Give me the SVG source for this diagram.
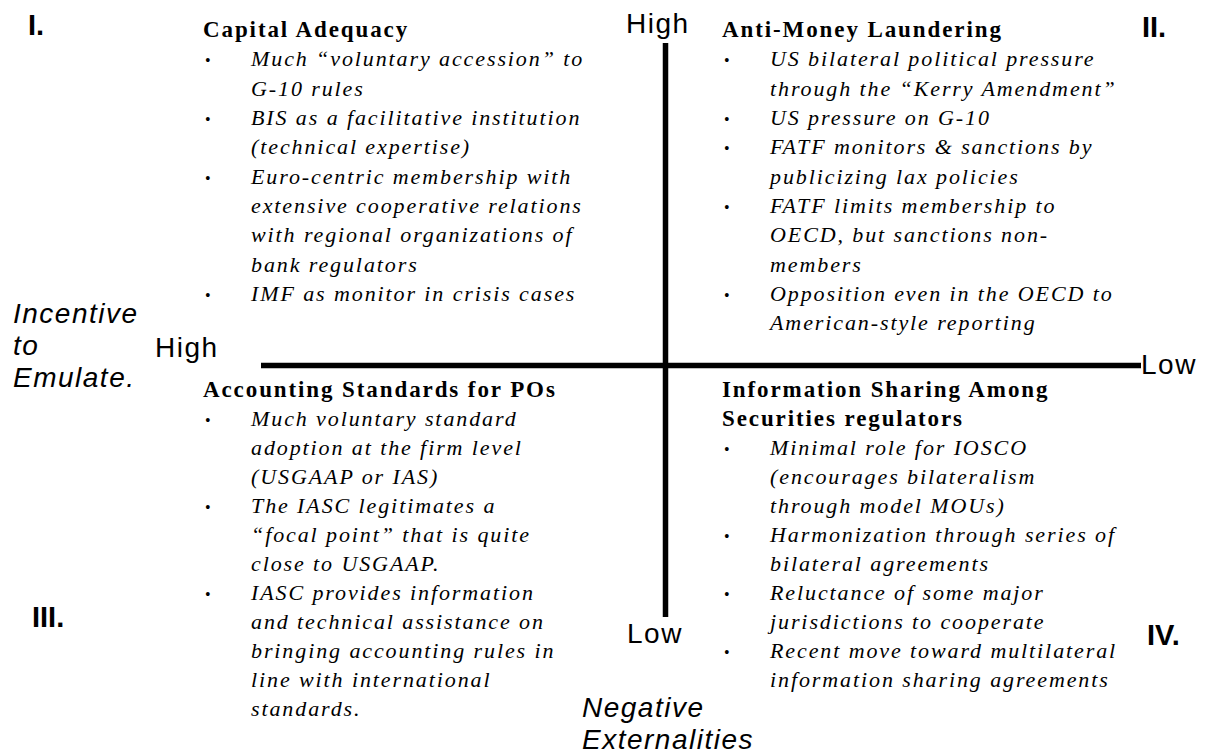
<svg xmlns="http://www.w3.org/2000/svg" width="1209" height="755" viewBox="0 0 1209 755">
<style>
.t{font-family:"Liberation Serif","Times New Roman",serif;font-weight:bold;font-size:23px;letter-spacing:1.9px;fill:#000}
.b{font-family:"Liberation Serif","Times New Roman",serif;font-style:italic;font-size:22px;letter-spacing:1.9px;fill:#000}
.d{font-family:"Liberation Serif","Times New Roman",serif;font-size:16px;fill:#000}
.s{font-family:"Liberation Sans",Arial,sans-serif;font-size:28px;letter-spacing:1.5px;fill:#000}
.si{font-family:"Liberation Sans",Arial,sans-serif;font-style:italic;font-size:28px;letter-spacing:1.5px;fill:#000}
.r{font-family:"Liberation Sans",Arial,sans-serif;font-weight:bold;font-size:29px;fill:#000}
.ax{stroke:#000;stroke-width:5.5;fill:none}
</style>
<rect width="1209" height="755" fill="#fff"/>
<g id="axes">
<line class="ax" x1="261" y1="365.5" x2="1141" y2="365.5"/>
<line class="ax" x1="665.5" y1="43" x2="665.5" y2="617"/>
</g>
<g id="axis-labels">
<text class="s" x="626" y="33">High</text>
<text class="s" x="155" y="357">High</text>
<text class="s" x="1141" y="374">Low</text>
<text class="s" x="627" y="643">Low</text>
<text class="si" x="13" y="323">Incentive</text>
<text class="si" x="13" y="355">to</text>
<text class="si" x="13" y="387">Emulate.</text>
<text class="si" x="582" y="717">Negative</text>
<text class="si" x="582" y="749">Externalities</text>
</g>
<g id="quadrant-labels">
<text class="r" x="28" y="35">I.</text>
<text class="r" x="1142" y="37">II.</text>
<text class="r" x="32" y="627">III.</text>
<text class="r" x="1147" y="645">IV.</text>
</g>
<g id="q1">
<text class="t" x="203" y="37">Capital Adequacy</text>
<text class="d" x="205" y="66">•</text><text class="b" x="251" y="66">Much “voluntary accession” to</text>
<text class="b" x="251" y="96">G-10 rules</text>
<text class="d" x="205" y="125">•</text><text class="b" x="251" y="125">BIS as a facilitative institution</text>
<text class="b" x="251" y="154">(technical expertise)</text>
<text class="d" x="205" y="184">•</text><text class="b" x="251" y="184">Euro-centric membership with</text>
<text class="b" x="251" y="213">extensive cooperative relations</text>
<text class="b" x="251" y="242">with regional organizations of</text>
<text class="b" x="251" y="272">bank regulators</text>
<text class="d" x="205" y="301">•</text><text class="b" x="251" y="301">IMF as monitor in crisis cases</text>
</g>
<g id="q2">
<text class="t" x="722" y="37">Anti-Money Laundering</text>
<text class="d" x="724" y="66">•</text><text class="b" x="770" y="66">US bilateral political pressure</text>
<text class="b" x="770" y="96">through the “Kerry Amendment”</text>
<text class="d" x="724" y="125">•</text><text class="b" x="770" y="125">US pressure on G-10</text>
<text class="d" x="724" y="154">•</text><text class="b" x="770" y="154">FATF monitors &amp; sanctions by</text>
<text class="b" x="770" y="184">publicizing lax policies</text>
<text class="d" x="724" y="213">•</text><text class="b" x="770" y="213">FATF limits membership to</text>
<text class="b" x="770" y="242">OECD, but sanctions non-</text>
<text class="b" x="770" y="272">members</text>
<text class="d" x="724" y="301">•</text><text class="b" x="770" y="301">Opposition even in the OECD to</text>
<text class="b" x="770" y="330">American-style reporting</text>
</g>
<g id="q3">
<text class="t" x="203" y="397">Accounting Standards for POs</text>
<text class="d" x="205" y="426">•</text><text class="b" x="251" y="426">Much voluntary standard</text>
<text class="b" x="251" y="455">adoption at the firm level</text>
<text class="b" x="251" y="484">(USGAAP or IAS)</text>
<text class="d" x="205" y="513">•</text><text class="b" x="251" y="513">The IASC legitimates a</text>
<text class="b" x="251" y="542">“focal point” that is quite</text>
<text class="b" x="251" y="571">close to USGAAP.</text>
<text class="d" x="205" y="600">•</text><text class="b" x="251" y="600">IASC provides information</text>
<text class="b" x="251" y="629">and technical assistance on</text>
<text class="b" x="251" y="658">bringing accounting rules in</text>
<text class="b" x="251" y="687">line with international</text>
<text class="b" x="251" y="716">standards.</text>
</g>
<g id="q4">
<text class="t" x="722" y="397">Information Sharing Among</text>
<text class="t" x="722" y="426">Securities regulators</text>
<text class="d" x="724" y="455">•</text><text class="b" x="770" y="455">Minimal role for IOSCO</text>
<text class="b" x="770" y="484">(encourages bilateralism</text>
<text class="b" x="770" y="513">through model MOUs)</text>
<text class="d" x="724" y="542">•</text><text class="b" x="770" y="542">Harmonization through series of</text>
<text class="b" x="770" y="571">bilateral agreements</text>
<text class="d" x="724" y="600">•</text><text class="b" x="770" y="600">Reluctance of some major</text>
<text class="b" x="770" y="629">jurisdictions to cooperate</text>
<text class="d" x="724" y="658">•</text><text class="b" x="770" y="658">Recent move toward multilateral</text>
<text class="b" x="770" y="687">information sharing agreements</text>
</g>
</svg>
